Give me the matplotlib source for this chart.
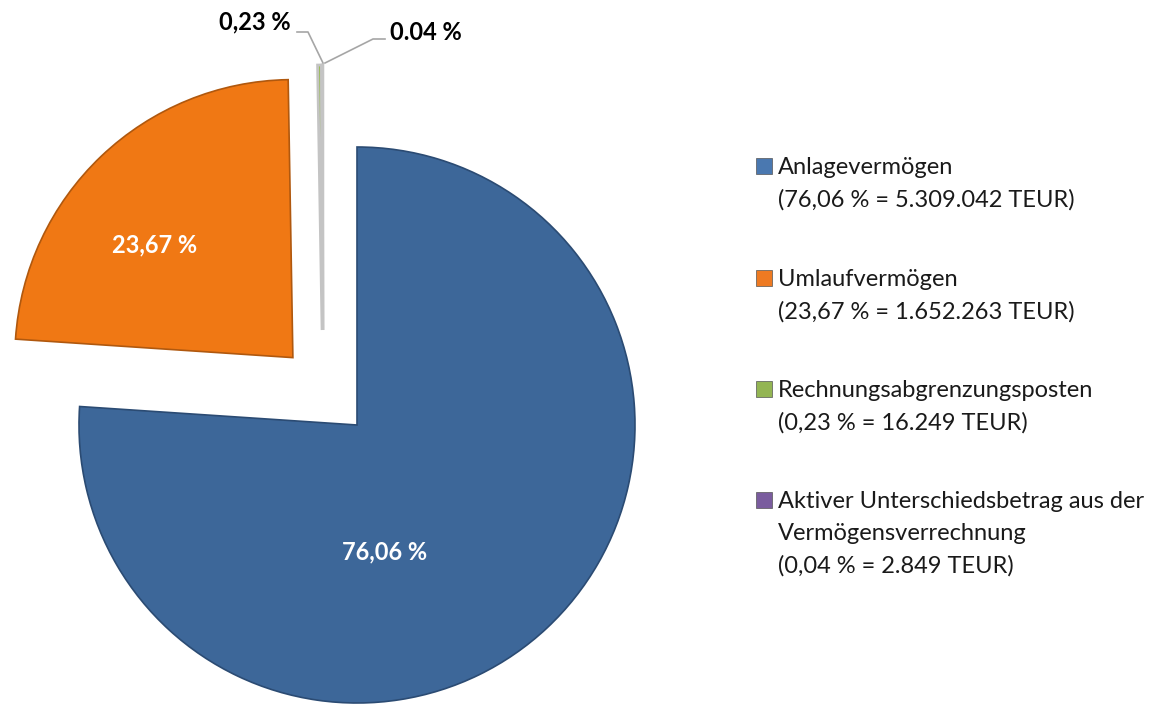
import matplotlib.pyplot as plt
from matplotlib.patches import Rectangle

# Daten
kategorien = ["Anlagevermögen", "Umlaufvermögen", "Rechnungsabgrenzungsposten",
              "Aktiver Unterschiedsbetrag aus der\nVermögensverrechnung"]
anteile = [76.06, 23.67, 0.23, 0.04]
teur = ["5.309.042", "1.652.263", "16.249", "2.849"]
pct_labels = ["76,06 %", "23,67 %", "0,23 %", "0.04 %"]
farben = ["#3D6799", "#F07814", "#9BBB59", "#8064A2"]
kanten = ["#2B4B73", "#B0580E", "#C4C4C4", "#C4C4C4"]
legend_farben = ["#4A78B0", "#EE7A22", "#93B553", "#7A5C9E"]

plt.rcParams["font.family"] = ["Lato", "DejaVu Sans"]

W, H = 1169, 707
fig = plt.figure(figsize=(W / 100, H / 100), dpi=100)
ax = fig.add_axes([0, 0, 1, 1])

radius = 278
center = (357, H - 425)
# explode ist hier in Pixeln, da die Achse in Pixeln skaliert ist
wedges, _ = ax.pie(anteile, radius=radius, center=center, startangle=90,
                   counterclock=False, explode=[0, 93, 95, 95],
                   colors=farben, wedgeprops=dict(linewidth=1.2))
for w, k in zip(wedges, kanten):
    w.set_edgecolor(k)
# die kleinen Segmente sitzen etwas weiter links und sind kürzer
for w in wedges[2:]:
    cx, cy = w.center
    w.set_center((cx - 34, cy))
    w.set_radius(265)
    w.set_linewidth(2)
ax.set_xlim(0, W)
ax.set_ylim(0, H)
ax.set_aspect("equal")
ax.axis("off")

# Prozentwerte in den Segmenten
ax.text(385, H - 552, pct_labels[0], color="white", fontsize=17, fontweight="bold",
        ha="center", va="center")
ax.text(155, H - 245, pct_labels[1], color="white", fontsize=17, fontweight="bold",
        ha="center", va="center")

# Beschriftung der kleinen Segmente mit Führungslinien
ax.plot([297, 308, 323], [H - 32, H - 32, H - 63], color="#A6A6A6", lw=1.2)
ax.plot([325, 373, 385], [H - 63, H - 39, H - 39], color="#A6A6A6", lw=1.2)
ax.text(291, H - 22, pct_labels[2], fontsize=17, fontweight="bold",
        ha="right", va="center")
ax.text(390, H - 33, pct_labels[3], fontsize=17, fontweight="bold",
        ha="left", va="center")

# Legende
zeilen_y = [166, 278, 389, 500]
for name, p, t, c, y in zip(kategorien, anteile, teur, legend_farben, zeilen_y):
    ax.add_patch(Rectangle((756, H - y - 8), 16, 16, facecolor=c,
                           edgecolor="#555555", linewidth=0.5))
    text = f"{name}\n({p:.2f} % = {t} TEUR)".replace(".", ",", 1)
    ax.text(778, H - y + 9, text, fontsize=17, ha="left", va="top",
            linespacing=1.65, color="#1a1a1a")

fig.savefig("out.png", dpi=100)
